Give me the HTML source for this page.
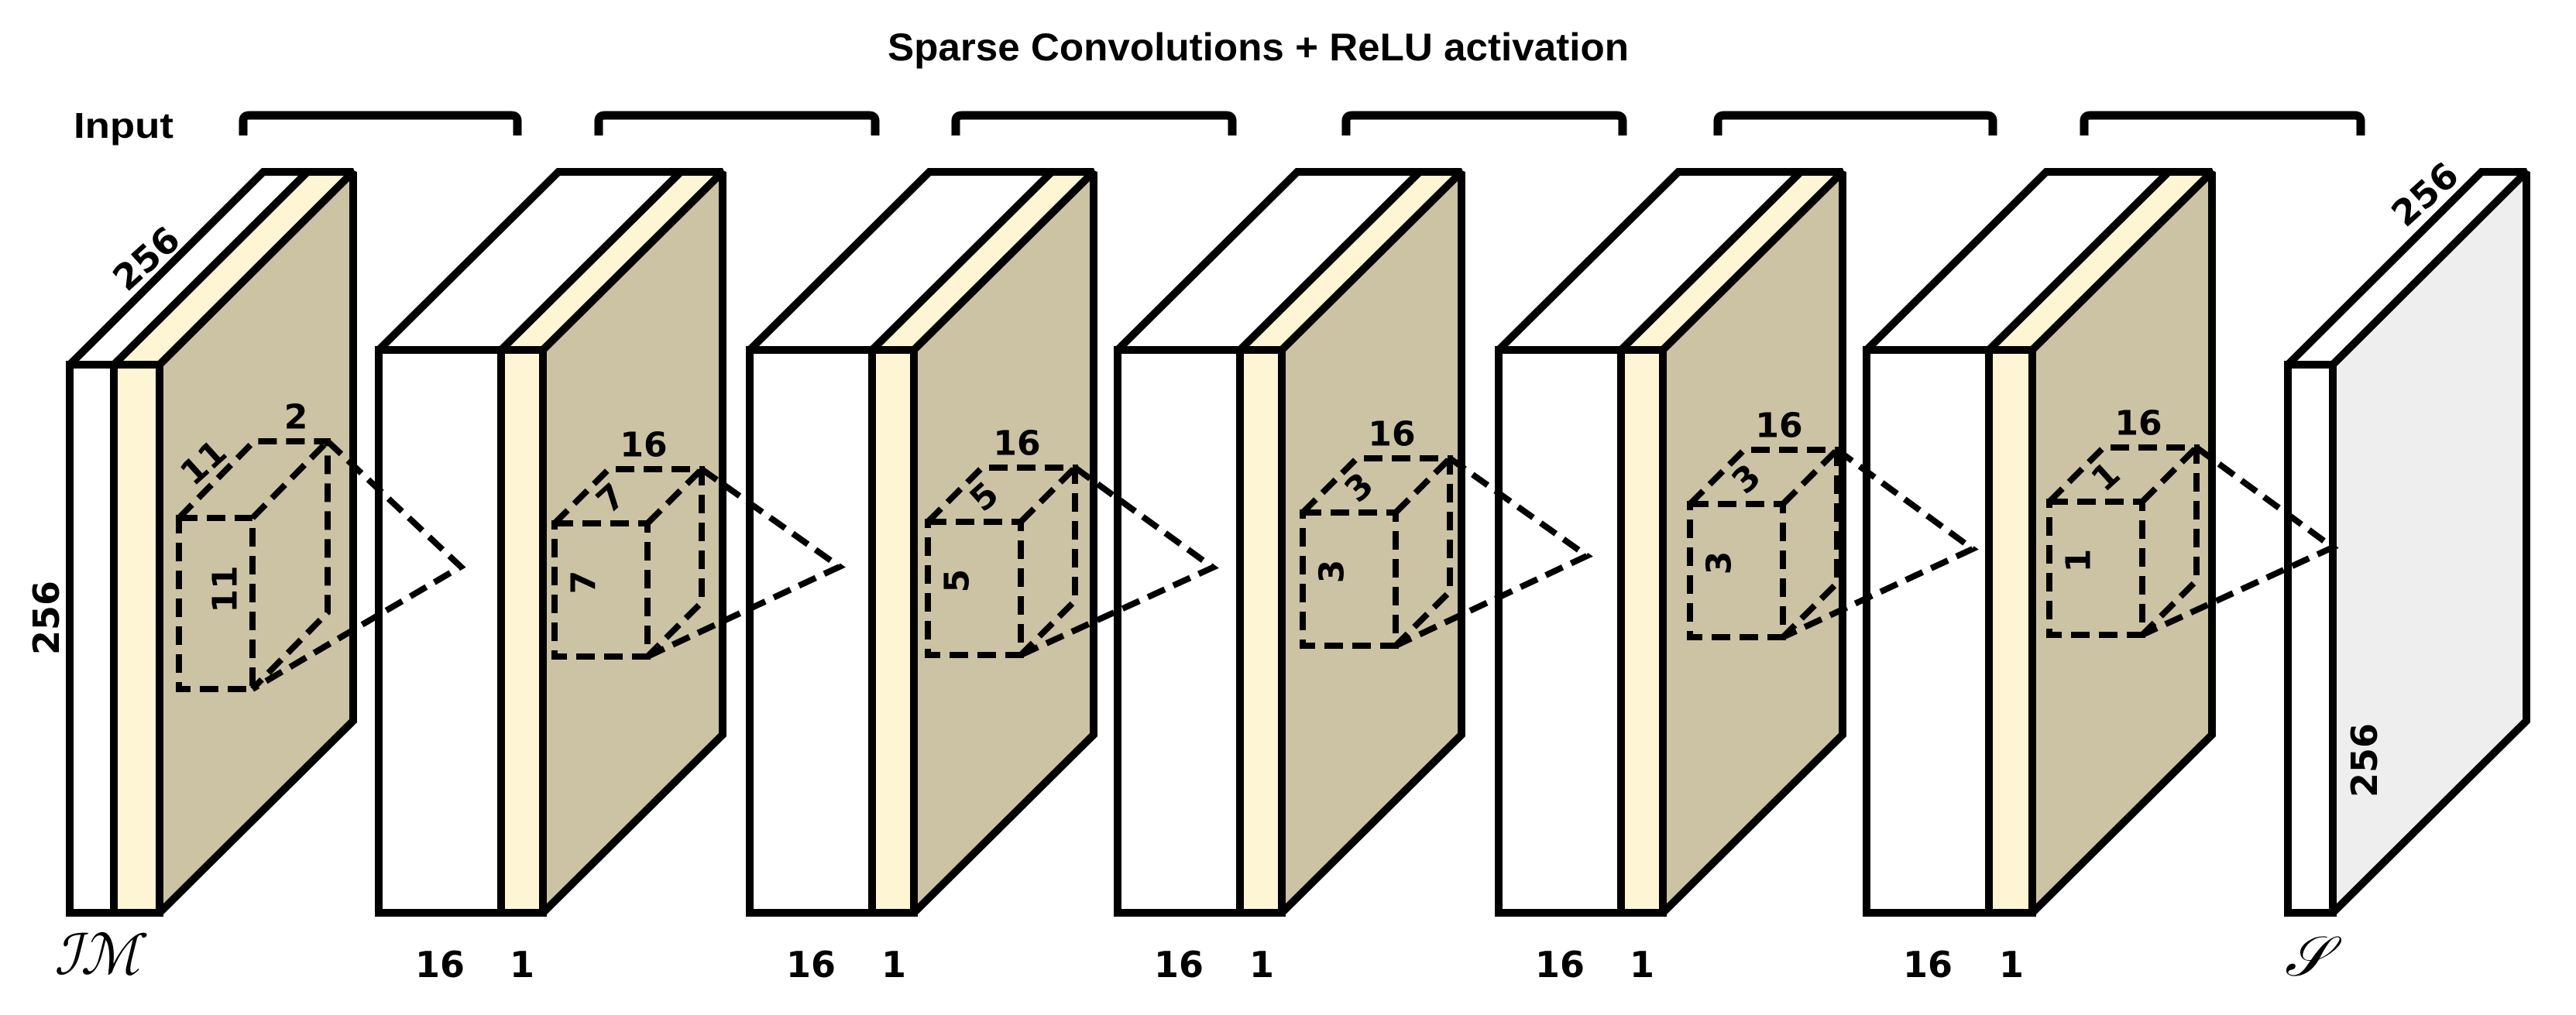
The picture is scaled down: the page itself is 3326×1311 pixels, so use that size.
<!DOCTYPE html>
<html><head><meta charset="utf-8"><style>
html,body{margin:0;padding:0;background:#fff;}
svg{display:block;}
.t{font-family:"DejaVu Sans","Liberation Sans",sans-serif;font-weight:bold;fill:#000;}
</style></head><body>
<svg width="3326" height="1311" viewBox="0 0 3326 1311" xmlns="http://www.w3.org/2000/svg">
<g stroke="#000" stroke-width="10" stroke-linejoin="miter" stroke-miterlimit="2.2">
<!-- Block 1 -->
<polygon points="90,471 340,222 456,222 206,471" fill="#fff"/>
<polygon points="147,471 397,222 456,222 206,471" fill="#fdf5d4"/>
<rect x="90" y="471" width="57" height="708" fill="#fff"/>
<rect x="147" y="471" width="59" height="708" fill="#fdf5d4"/>
<polygon points="206,471 456,222 456,931 206,1179" fill="#ccc3a5"/>

<polygon points="489,452 721,222 933,222 701,452" fill="#fff"/>
<polygon points="647,452 879,222 933,222 701,452" fill="#fdf5d4"/>
<rect x="489" y="452" width="158" height="727" fill="#fff"/>
<rect x="647" y="452" width="54" height="727" fill="#fdf5d4"/>
<polygon points="701,452 933,222 933,949 701,1179" fill="#ccc3a5"/>

<polygon points="968,452 1200,222 1412,222 1180,452" fill="#fff"/>
<polygon points="1126,452 1358,222 1412,222 1180,452" fill="#fdf5d4"/>
<rect x="968" y="452" width="158" height="727" fill="#fff"/>
<rect x="1126" y="452" width="54" height="727" fill="#fdf5d4"/>
<polygon points="1180,452 1412,222 1412,949 1180,1179" fill="#ccc3a5"/>

<polygon points="1443,452 1675,222 1887,222 1655,452" fill="#fff"/>
<polygon points="1601,452 1833,222 1887,222 1655,452" fill="#fdf5d4"/>
<rect x="1443" y="452" width="158" height="727" fill="#fff"/>
<rect x="1601" y="452" width="54" height="727" fill="#fdf5d4"/>
<polygon points="1655,452 1887,222 1887,949 1655,1179" fill="#ccc3a5"/>

<polygon points="1935,452 2167,222 2379,222 2147,452" fill="#fff"/>
<polygon points="2093,452 2325,222 2379,222 2147,452" fill="#fdf5d4"/>
<rect x="1935" y="452" width="158" height="727" fill="#fff"/>
<rect x="2093" y="452" width="54" height="727" fill="#fdf5d4"/>
<polygon points="2147,452 2379,222 2379,949 2147,1179" fill="#ccc3a5"/>

<polygon points="2410,452 2642,222 2856,222 2624,452" fill="#fff"/>
<polygon points="2568,452 2800,222 2856,222 2624,452" fill="#fdf5d4"/>
<rect x="2410" y="452" width="158" height="727" fill="#fff"/>
<rect x="2568" y="452" width="56" height="727" fill="#fdf5d4"/>
<polygon points="2624,452 2856,222 2856,949 2624,1179" fill="#ccc3a5"/>

<!-- S block -->
<polygon points="2954,471 3204,222 3262,222 3012,471" fill="#fff"/>
<rect x="2954" y="471" width="58" height="708" fill="#fff"/>
<polygon points="3012,471 3262,222 3262,931 3012,1179" fill="#eeeeee"/>
</g>

<!-- brackets -->
<g fill="none" stroke="#000" stroke-width="11" stroke-linejoin="round">
<path d="M314,175 V156 Q314,149 322,149 H660 Q668,149 668,156 V175"/>
<path d="M773,175 V156 Q773,149 781,149 H1122 Q1130,149 1130,156 V175"/>
<path d="M1234,175 V156 Q1234,149 1242,149 H1583 Q1591,149 1591,156 V175"/>
<path d="M1738,175 V156 Q1738,149 1746,149 H2087 Q2095,149 2095,156 V175"/>
<path d="M2218,175 V156 Q2218,149 2226,149 H2565 Q2573,149 2573,156 V175"/>
<path d="M2691,175 V156 Q2691,149 2699,149 H3040 Q3048,149 3048,156 V175"/>
</g>

<!-- dashed cubes & cones -->
<g fill="none" stroke="#000" stroke-width="8" stroke-dasharray="24,12">
<path d="M231,669 H326 V890 H231 Z M231,669 L328,570 H423 V791 L326,890 M326,669 L423,570 M423,570 L595,732 L326,890"/>
<path d="M716,676 H836 V848 H716 Z M716,676 L786,606 H906 V778 L836,848 M836,676 L906,606 M906,606 L1084,732 L836,848"/>
<path d="M1198,674 H1318 V846 H1198 Z M1198,674 L1268,604 H1388 V776 L1318,846 M1318,674 L1388,604 M1388,604 L1566,733 L1318,846"/>
<path d="M1682,662 H1802 V834 H1682 Z M1682,662 L1752,592 H1872 V764 L1802,834 M1802,662 L1872,592 M1872,592 L2049,718 L1802,834"/>
<path d="M2182,651 H2302 V823 H2182 Z M2182,651 L2252,581 H2372 V753 L2302,823 M2302,651 L2372,581 M2372,581 L2547,709 L2302,823"/>
<path d="M2646,648 H2766 V820 H2646 Z M2646,648 L2716,578 H2836 V750 L2766,820 M2766,648 L2836,578 M2836,578 L3012,707 L2766,820"/>
</g>

<!-- texts -->
<text x="1146" y="78" font-family="Liberation Sans, sans-serif" font-weight="bold" font-size="50" textLength="957" lengthAdjust="spacingAndGlyphs">Sparse Convolutions + ReLU activation</text>
<text x="95" y="178" font-family="Liberation Sans, sans-serif" font-weight="bold" font-size="46" textLength="129" lengthAdjust="spacingAndGlyphs">Input</text>

<g class="t" font-size="44" text-anchor="middle" dominant-baseline="central">
<text transform="translate(189,334) rotate(-42)" font-size="46">256</text>
<text transform="translate(60,798) rotate(-90)" font-size="46">256</text>
<text x="382" y="539">2</text>
<text transform="translate(263,598) rotate(-42)">11</text>
<text transform="translate(291,761) rotate(-90)">11</text>

<text x="831" y="575">16</text>
<text transform="translate(789,644) rotate(-42)">7</text>
<text transform="translate(754,752) rotate(-90)">7</text>
<text x="1313" y="573">16</text>
<text transform="translate(1271,642) rotate(-42)">5</text>
<text transform="translate(1236,750) rotate(-90)">5</text>
<text x="1797" y="561">16</text>
<text transform="translate(1755,630) rotate(-42)">3</text>
<text transform="translate(1720,738) rotate(-90)">3</text>
<text x="2297" y="550">16</text>
<text transform="translate(2255,619) rotate(-42)">3</text>
<text transform="translate(2220,727) rotate(-90)">3</text>
<text x="2761" y="547">16</text>
<text transform="translate(2719,616) rotate(-42)">1</text>
<text transform="translate(2684,724) rotate(-90)">1</text>

<text transform="translate(3131,251) rotate(-42)" font-size="46">256</text>
<text transform="translate(3053,982) rotate(-90)" font-size="46">256</text>

<g font-size="46">
<text x="568" y="1246">16</text><text x="674" y="1246">1</text>
<text x="1047" y="1246">16</text><text x="1154" y="1246">1</text>
<text x="1522" y="1246">16</text><text x="1629" y="1246">1</text>
<text x="2014" y="1246">16</text><text x="2120" y="1246">1</text>
<text x="2489" y="1246">16</text><text x="2597" y="1246">1</text>
</g>
</g>
<g font-family="Liberation Serif, serif" font-style="italic" font-size="72" fill="#000">
<text x="70" y="1258">ℐℳ</text>
<text x="2950" y="1260">𝒮</text>
</g>
</svg>
</body></html>
